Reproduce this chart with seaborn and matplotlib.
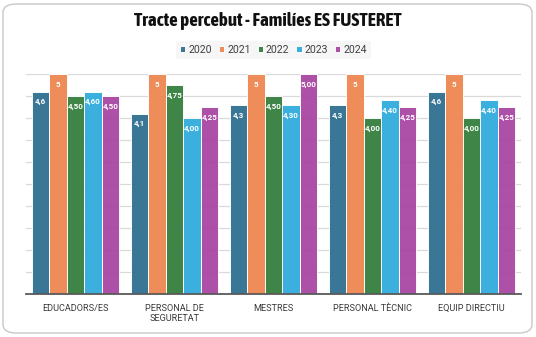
import matplotlib
matplotlib.use("Agg")
import matplotlib.pyplot as plt
from matplotlib import font_manager
from matplotlib.patches import FancyBboxPatch
import seaborn as sns
import pandas as pd

categories = ["EDUCADORS/ES", "PERSONAL DE\nSEGURETAT", "MESTRES", "PERSONAL TÈCNIC", "EQUIP DIRECTIU"]
years = ["2020", "2021", "2022", "2023", "2024"]
v2020 = [4.6, 4.1, 4.3, 4.3, 4.6]
v2021 = [5, 5, 5, 5, 5]
v2022 = [4.50, 4.75, 4.50, 4.00, 4.00]
v2023 = [4.60, 4.00, 4.30, 4.40, 4.40]
v2024 = [4.50, 4.25, 5.00, 4.25, 4.25]
label_formats = ["{:.1f}", "{:.0f}", "{:.2f}", "{:.2f}", "{:.2f}"]
colors = ["#2F7090", "#EE8750", "#357E3E", "#30ABDC", "#A946A3"]

series = [v2020, v2021, v2022, v2023, v2024]
df = pd.DataFrame({
    "categoria": [c for _ in years for c in categories],
    "any": [y for y in years for _ in categories],
    "valor": [v for s in series for v in s],
})


def bold_family(candidates, fallback="Roboto"):
    """First candidate family that ships a bold face."""
    for name in candidates:
        for f in font_manager.fontManager.ttflist:
            w = f.weight if isinstance(f.weight, int) else 400
            if f.name == name and w >= 700 and f.style == "normal":
                return name
    return fallback


title_font = bold_family(["Archivo Narrow", "Asap Condensed", "Roboto Condensed"])

sns.set_theme(style="white")
plt.rcParams["font.family"] = ["Roboto", "DejaVu Sans"]

fig = plt.figure(figsize=(5.36, 3.37), dpi=100)
fig.patch.set_facecolor("white")
frame = FancyBboxPatch((3 / 536, 4 / 337), 529 / 536, 329 / 337,
                       boxstyle="round,pad=0,rounding_size=0.025",
                       transform=fig.transFigure, facecolor="none",
                       edgecolor="#c8c8c8", linewidth=1.0, zorder=0)
fig.patches.append(frame)

ax = fig.add_axes([26 / 536, 1 - 294 / 337, 495 / 536, 220 / 337])
ax.set_facecolor("none")

sns.barplot(data=df, x="categoria", y="valor", hue="any", palette=colors,
            order=categories, hue_order=years, width=0.88, gap=0.0,
            saturation=1, edgecolor="white", linewidth=0.7, alpha=0.95,
            ax=ax, zorder=2)

ax.set_ylim(0, 5)
ax.set_xlim(-0.5, 4.5)
ax.set_yticks([i * 0.5 for i in range(11)])
ax.set_yticklabels([])
ax.tick_params(axis="y", length=0)
ax.tick_params(axis="x", length=0, pad=7, labelsize=6.6, labelcolor="#3a3a3a")
ax.yaxis.grid(True, color="#d9d9d9", linewidth=0.9, zorder=0)
ax.set_axisbelow(True)
for side in ["left", "right", "top"]:
    ax.spines[side].set_visible(False)
ax.spines["bottom"].set_color("#595959")
ax.spines["bottom"].set_linewidth(1.3)
ax.set_xlabel("")
ax.set_ylabel("")

for container, fmt in zip(ax.containers, label_formats):
    labels = [fmt.format(b.get_height()).replace(".", ",") for b in container]
    ax.bar_label(container, labels=labels, label_type="edge", padding=-10,
                 color="white", fontsize=5.8, fontweight="bold", zorder=5)

leg = ax.legend(loc="center", bbox_to_anchor=(0.5, 1 + 24 / 220), ncol=5,
                frameon=True, fontsize=7.6, handlelength=0.5, handleheight=0.5,
                handletextpad=0.3, columnspacing=0.65, borderpad=0.35)
leg.get_frame().set_facecolor("#f4f4f4")
leg.get_frame().set_edgecolor("none")
for t in leg.get_texts():
    t.set_color("#404040")

fig.text(0.5, 1 - 21 / 337, "Tracte percebut - Familíes ES FUSTERET",
         ha="center", va="center", fontsize=13.6, fontweight="bold",
         family=[title_font, "DejaVu Sans"], color="#111111")

fig.savefig("out.png", dpi=100)
